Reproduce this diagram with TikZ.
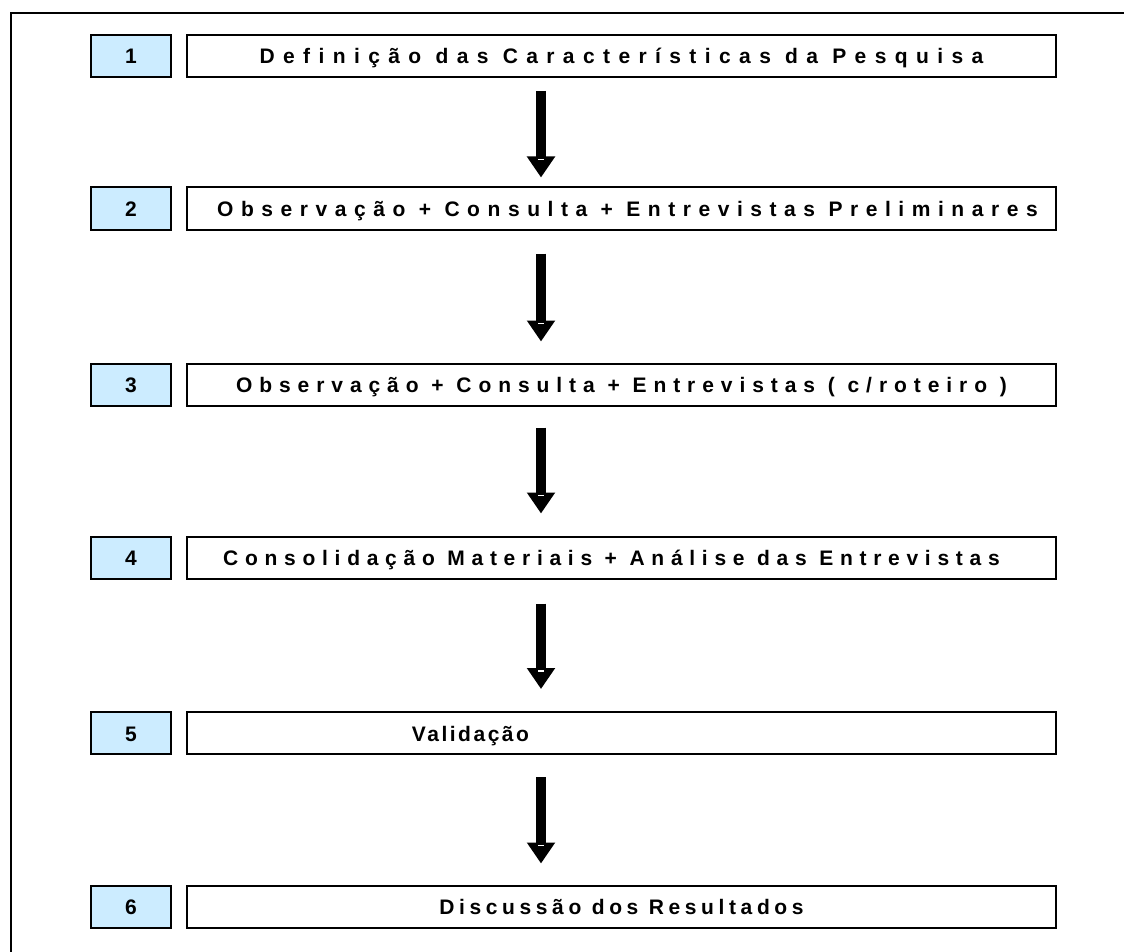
\documentclass[tikz,border=0pt]{standalone}
\usepackage{fontspec}
\setmainfont{Liberation Sans}
\usetikzlibrary{arrows.meta,calc}
\definecolor{stepblue}{RGB}{204,236,255}
\begin{document}
\begin{tikzpicture}[x=1pt,y=-1pt,
  boxbase/.style={draw=black,line width=2pt,minimum height=42pt,inner sep=0pt,
    text height=19pt,text depth=3pt},
  numbox/.style={boxbase,fill=stepblue,minimum width=80pt,
    font=\fontsize{21}{24}\bfseries},
  textbox/.style={boxbase,fill=white,minimum width=869pt,
    font=\fontsize{21}{24}\bfseries\addfontfeatures{LetterSpace=#1}},
  textbox/.default=36,
  bigarrow/.style={line width=10pt,-{Triangle[width=27pt,length=21pt]}},
  notch/.style={white,line width=1.5pt}]
\clip (0,0) rectangle (1124,952);
\fill[white] (0,0) rectangle (1124,952);
% outer frame
\draw[line width=2pt] (11,13) rectangle (1130,960);
% step numbers and titles
\node[numbox] (n1) at (131,56) {1};
\node[textbox=40] (t1) at (621.5,56) {Definição das Características da Pesquisa};
\node[numbox] (n2) at (131,208.5) {2};
\node[textbox=36] (t2) at (621.5,208.5) {\hspace*{12pt}Observação + Consulta + Entrevistas Preliminares};
\node[numbox] (n3) at (131,384.5) {3};
\node[textbox=33] (t3) at (621.5,384.5) {Observação + Consulta + Entrevistas ( c/roteiro )};
\node[numbox] (n4) at (131,557.5) {4};
\node[textbox=32] (t4) at (621.5,557.5) {Consolidação Materiais + Análise das Entrevistas\hspace*{20pt}};
\node[numbox] (n5) at (131,733) {5};
\node[textbox=12] (t5) at (621.5,733) {Validação\hspace*{302pt}};
\node[numbox] (n6) at (131,906.5) {6};
\node[textbox=22] (t6) at (621.5,906.5) {Discussão dos Resultados};
% vertical axis of the arrows
\coordinate (ax) at (541,0);
% arrows between consecutive steps
\foreach \a/\b/\s/\e in {t1/t2/13/9, t2/t3/23/21, t3/t4/21/22, t4/t5/24/22, t5/t6/22/21}{
  \draw[bigarrow] ($(\a.south -| ax)+(0,\s)$) -- ($(\b.north -| ax)+(0,-\e)$);
  \draw[notch] ($(\b.north -| ax)+(-3,-\e-18)$) -- ++(6,0);
}
\end{tikzpicture}
\end{document}
